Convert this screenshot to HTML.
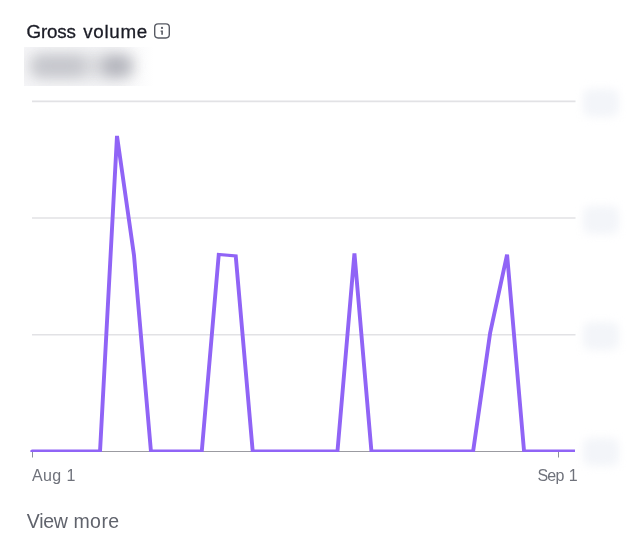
<!DOCTYPE html>
<html><head><meta charset="utf-8">
<style>
html,body{margin:0;padding:0;background:#fff;}
body{width:640px;height:556px;position:relative;overflow:hidden;font-family:"Liberation Sans",sans-serif;}
.title{position:absolute;top:21.4px;font-size:18.8px;line-height:22px;color:#1a1b25;white-space:nowrap;-webkit-text-stroke:0.3px #1a1b25;}
.more{position:absolute;top:510px;font-size:19.5px;line-height:22px;color:#60636c;white-space:nowrap;}
.ax{position:absolute;font-size:16px;line-height:20px;color:#6f727b;white-space:nowrap;}
.val{position:absolute;left:24px;top:46.5px;width:130px;height:39.5px;overflow:hidden;
  background:linear-gradient(90deg,#f5f5f7 0%,#f5f5f7 70%,#ffffff 100%);}
.val i{position:absolute;display:block;border-radius:8px;filter:blur(7px);}
.yb{position:absolute;left:583px;width:36px;height:28px;border-radius:8px;background:#f3f5f9;filter:blur(4.5px);}
svg{position:absolute;left:0;top:0;}
</style></head><body>
<svg width="640" height="556" viewBox="0 0 640 556">
  <defs><clipPath id="plot"><rect x="0" y="0" width="575" height="452"/></clipPath></defs>
  <g stroke="#e2e2e5" stroke-width="1.6">
    <line x1="32" y1="101.4" x2="575.5" y2="101.4"/>
    <line x1="32" y1="218" x2="575.5" y2="218"/>
    <line x1="32" y1="334.8" x2="575.5" y2="334.8"/>
  </g>
  <line x1="32" y1="451.5" x2="575" y2="451.5" stroke="#9b9ba1" stroke-width="1"/>
  <line x1="32.5" y1="451" x2="32.5" y2="457.5" stroke="#8a8f9c" stroke-width="1"/>
  <line x1="558.5" y1="451" x2="558.5" y2="457.5" stroke="#8a8f9c" stroke-width="1"/>
  <g clip-path="url(#plot)"><polyline transform="scale(1.3,1)" fill="none" stroke="#9064f6" stroke-width="3" stroke-linejoin="miter" stroke-linecap="round"
   points="24.769,451 76.954,451 90.0,135.9 103.046,255 116.092,451 155.231,451 168.277,254.5 181.323,255.9 194.369,451 259.6,451 272.646,253.3 285.692,451 363.969,451 377.015,333 390.062,254.5 403.108,451 442.246,451"/></g>
  <!-- info icon -->
  <rect x="154.7" y="23.9" width="14.6" height="14.1" rx="3.4" fill="none" stroke="#575a63" stroke-width="1.4"/>
  <circle cx="162" cy="27.9" r="1.1" fill="#575a63"/>
  <path d="M160.6 30.6h2.3v4.2h-1.6v-3h-0.7z" fill="#575a63"/>
</svg>
<div class="title" style="left:26.6px;letter-spacing:-0.2px;">Gross</div>
<div class="title" style="left:83.2px;letter-spacing:0.7px;">volume</div>
<div class="val">
  <i style="left:6px;top:7.5px;width:104px;height:24px;background:#dbdcdf;"></i>
  <i style="left:9px;top:10.5px;width:52px;height:18px;background:#c4c5cb;"></i>
  <i style="left:78px;top:10.5px;width:28px;height:18px;background:#b1b2ba;"></i>
</div>
<div class="yb" style="top:89px;"></div>
<div class="yb" style="top:205.5px;"></div>
<div class="yb" style="top:322px;"></div>
<div class="yb" style="top:438px;"></div>
<div class="ax" style="left:32px;top:465.5px;letter-spacing:0.4px;">Aug 1</div>
<div class="ax" style="right:63px;top:465.5px;letter-spacing:-0.75px;word-spacing:1.5px;">Sep 1</div>
<div class="more" style="left:26.8px;letter-spacing:-0.3px;">View</div>
<div class="more" style="left:73.4px;letter-spacing:0.45px;">more</div>
</body></html>
